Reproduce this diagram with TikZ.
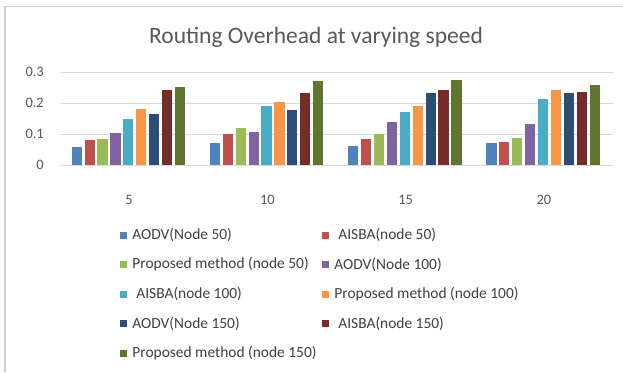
\documentclass[tikz,border=0pt]{standalone}
\usepackage{fontspec}
\setmainfont{Carlito}
\usetikzlibrary{positioning}
\definecolor{SerO}{HTML}{4F81BD}
\definecolor{SerI}{HTML}{C0504D}
\definecolor{SerII}{HTML}{9BBB59}
\definecolor{SerIII}{HTML}{8064A2}
\definecolor{SerIV}{HTML}{4BACC6}
\definecolor{SerV}{HTML}{F79646}
\definecolor{SerVI}{HTML}{2C4D75}
\definecolor{SerVII}{HTML}{772C2A}
\definecolor{SerVIII}{HTML}{5F7530}
\definecolor{GridClr}{HTML}{D9D9D9}
\definecolor{FrameClr}{HTML}{D0D0D0}
\definecolor{TickClr}{HTML}{595959}
\definecolor{LegClr}{HTML}{404040}

\begin{document}
\begin{tikzpicture}[x=1bp,y=-1bp,
  tick/.style={inner sep=0pt,text=TickClr,font=\fontsize{14.5}{16}\selectfont},
  legsq/.style={minimum size=7bp,inner sep=0pt},
  legtxt/.style={inner sep=0pt,text=LegClr,font=\fontsize{15.5}{17}\selectfont}]
\useasboundingbox (0,0) rectangle (623,372);
\fill[white] (0,0) rectangle (623,372);

% chart frame
\draw[FrameClr,line width=1.5bp] (5,372) -- (5,6.5) -- (623,6.5);

\node[text=TickClr,font=\fontsize{23.6}{26}\selectfont] (title) at (316,37) {Routing Overhead at varying speed};

% grid and y axis
\foreach \v/\lab in {0/0,1/0.1,2/0.2,3/0.3}{
  \draw[GridClr,line width=1bp] (60,165-31*\v) -- (613,165-31*\v);
  \node[tick,anchor=east] (y\v) at (44,165-31*\v) {\lab};
}

% bars
\foreach \g/\sp/\vals in {0/5/{0.057,0.081,0.084,0.103,0.149,0.182,0.166,0.242,0.252},
                          1/10/{0.070,0.100,0.119,0.105,0.190,0.203,0.176,0.233,0.271},
                          2/15/{0.062,0.084,0.100,0.138,0.171,0.190,0.233,0.242,0.274},
                          3/20/{0.070,0.073,0.087,0.132,0.212,0.242,0.233,0.236,0.257}}{
  \pgfmathsetmacro{\cx}{60+138.25*(\g+0.5)}
  \node[tick] (x\g) at (\cx,200) {\sp};
  \foreach \h [count=\i from 0] in \vals{
    \pgfmathsetmacro{\bx}{\cx-57.5+12.9*\i}
    \fill[Ser\ifcase\i O\or I\or II\or III\or IV\or V\or VI\or VII\or VIII\fi]
      (\bx,165) rectangle ++(10.2,-310*\h);
  }
}

% legend
\node[legsq,fill=SerO]    (sq0) at (123.5,235) {};
\node[legsq,fill=SerI]    (sq1) at (325.5,235) {};
\node[legsq,fill=SerII]   (sq2) at (123.5,264.5) {};
\node[legsq,fill=SerIII]  (sq3) at (325.5,264.5) {};
\node[legsq,fill=SerIV]   (sq4) at (123.5,294) {};
\node[legsq,fill=SerV]    (sq5) at (325.5,294) {};
\node[legsq,fill=SerVI]   (sq6) at (123.5,323.5) {};
\node[legsq,fill=SerVII]  (sq7) at (325.5,323.5) {};
\node[legsq,fill=SerVIII] (sq8) at (123.5,353) {};

\node[legtxt,right=5bp of sq0] (lab0) {AODV(Node 50)};
\node[legtxt,right=9bp of sq1] (lab1) {AISBA(node 50)};
\node[legtxt,right=5bp of sq2] (lab2) {Proposed method (node 50)};
\node[legtxt,right=5bp of sq3] (lab3) {AODV(Node 100)};
\node[legtxt,right=9bp of sq4] (lab4) {AISBA(node 100)};
\node[legtxt,right=5bp of sq5] (lab5) {Proposed method (node 100)};
\node[legtxt,right=5bp of sq6] (lab6) {AODV(Node 150)};
\node[legtxt,right=9bp of sq7] (lab7) {AISBA(node 150)};
\node[legtxt,right=5bp of sq8] (lab8) {Proposed method (node 150)};

\end{tikzpicture}
\end{document}
